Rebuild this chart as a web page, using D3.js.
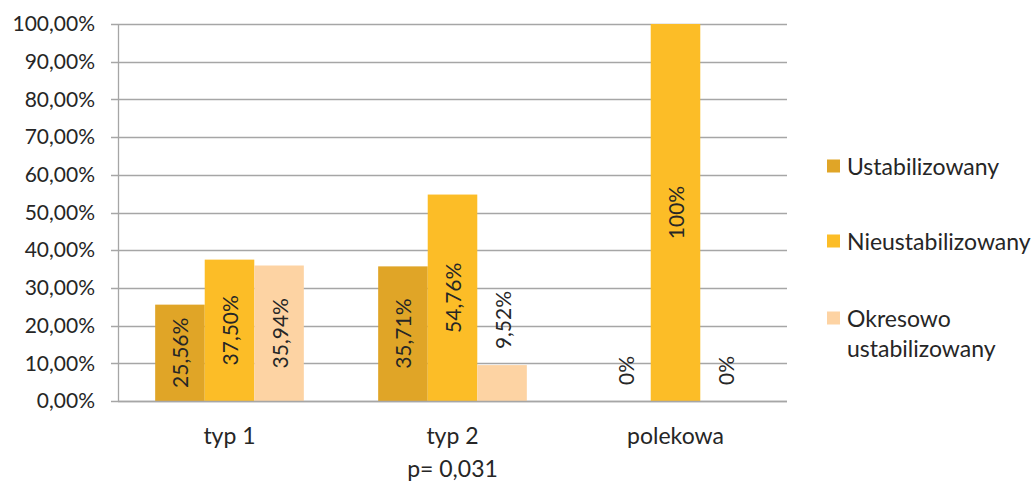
<!DOCTYPE html>
<html>
<head>
<meta charset="utf-8">
<script src="https://cdn.jsdelivr.net/npm/d3@7"></script>
<style>
  html, body { margin: 0; padding: 0; background: #fff; }
  svg { display: block; font-family: Lato, "Open Sans", sans-serif; }
</style>
</head>
<body>
<svg id="chart" width="1033" height="481"></svg>
<script>
// Data
const categories = ["typ 1", "typ 2", "polekowa"];
const seriesNames = ["Ustabilizowany", "Nieustabilizowany", "Okresowo ustabilizowany"];
const ustabilizowany = [25.56, 35.71, 0];
const nieustabilizowany = [37.50, 54.76, 100];
const okresowo = [35.94, 9.52, 0];
const valueLabels = [
  ["25,56%", "35,71%", "0%"],
  ["37,50%", "54,76%", "100%"],
  ["35,94%", "9,52%", "0%"]
];
const yTicks = [0, 10, 20, 30, 40, 50, 60, 70, 80, 90, 100];
const colors = ["#E0A527", "#FCBD27", "#FDD3A3"];
const footnote = "p= 0,031";

const series = [ustabilizowany, nieustabilizowany, okresowo];

const svg = d3.select("#chart");
const plot = { left: 118, right: 787, top: 24, bottom: 401 };
const textColor = "#262626";
const gridColor = "#A6A6A6";

const x = d3.scaleBand().domain(categories).range([plot.left, plot.right]).paddingInner(0).paddingOuter(0);
// Gap width of 150%: bars fill 3/(3+1.5) of each category
const gap = x.bandwidth() * 0.75 / 4.5;
const xInner = d3.scaleBand().domain(d3.range(series.length))
  .range([gap, x.bandwidth() - gap]).padding(0);

const y = d3.scaleLinear().domain([0, 100]).range([plot.bottom, plot.top]);

// Gridlines
svg.append("g")
  .selectAll("line")
  .data(yTicks)
  .join("line")
  .attr("x1", plot.left - 7)
  .attr("x2", plot.right)
  .attr("y1", d => Math.round(y(d)) + 0.5)
  .attr("y2", d => Math.round(y(d)) + 0.5)
  .attr("stroke", gridColor)
  .attr("stroke-width", 1.3);

// Y axis line
svg.append("line")
  .attr("x1", plot.left + 0.5).attr("x2", plot.left + 0.5)
  .attr("y1", plot.top).attr("y2", plot.bottom)
  .attr("stroke", gridColor).attr("stroke-width", 1.3);

// Y axis labels
const yAxis = d3.axisLeft(y).tickValues(yTicks)
  .tickFormat(d => d3.format(".2f")(d).replace(".", ",") + "%")
  .tickSize(0).tickPadding(23);
const yg = svg.append("g").attr("transform", `translate(${plot.left},0)`).call(yAxis);
yg.select(".domain").remove();
yg.selectAll("text")
  .attr("font-family", "Lato, sans-serif")
  .attr("font-size", 21)
  .attr("fill", textColor);

// Bars
const barGroups = svg.append("g").selectAll("g")
  .data(series)
  .join("g")
  .attr("fill", (d, i) => colors[i]);

barGroups.each(function(vals, si) {
  d3.select(this).selectAll("rect")
    .data(vals.map((v, ci) => ({ v, ci })))
    .join("rect")
    .attr("x", d => x(categories[d.ci]) + xInner(si))
    .attr("width", xInner.bandwidth())
    .attr("y", d => y(d.v))
    .attr("height", d => y(0) - y(d.v));
});

// Value labels (rotated); placed above the bar when they do not fit inside
const labelLayer = svg.append("g");
series.forEach((vals, si) => {
  vals.forEach((v, ci) => {
    const cx = x(categories[ci]) + xInner(si) + xInner.bandwidth() / 2;
    const t = labelLayer.append("text")
      .text(valueLabels[si][ci])
      .attr("font-size", 21)
      .attr("fill", textColor)
      .attr("dominant-baseline", "central");
    const len = t.node().getComputedTextLength();
    const barH = y(0) - y(v);
    let cy, anchor;
    if (len + 6 < barH) {
      cy = (y(0) + y(v)) / 2;
      anchor = "middle";
    } else {
      cy = y(v) - 16;
      anchor = "start";
    }
    t.attr("text-anchor", anchor)
      .attr("transform", `translate(${cx},${cy}) rotate(-90)`);
  });
});

// X axis line
svg.append("line")
  .attr("x1", plot.left).attr("x2", plot.right)
  .attr("y1", plot.bottom + 0.5).attr("y2", plot.bottom + 0.5)
  .attr("stroke", gridColor).attr("stroke-width", 1.3);

// Category labels
svg.append("g").selectAll("text")
  .data(categories)
  .join("text")
  .attr("x", d => x(d) + x.bandwidth() / 2)
  .attr("y", 444)
  .attr("text-anchor", "middle")
  .attr("font-size", 23)
  .attr("fill", textColor)
  .text(d => d);

// Footnote
svg.append("text")
  .attr("x", x("typ 2") + x.bandwidth() / 2)
  .attr("y", 477)
  .attr("text-anchor", "middle")
  .attr("font-size", 23)
  .attr("fill", textColor)
  .text(footnote);

// Legend
const legendRows = [
  { lines: ["Ustabilizowany"], cy: 166 },
  { lines: ["Nieustabilizowany"], cy: 241 },
  { lines: ["Okresowo", "ustabilizowany"], cy: 318 }
];
const legend = svg.append("g");
legendRows.forEach((row, i) => {
  legend.append("rect")
    .attr("x", 827).attr("y", row.cy - 6.5)
    .attr("width", 13).attr("height", 13)
    .attr("fill", colors[i]);
  const t = legend.append("text")
    .attr("x", 847).attr("y", row.cy)
    .attr("font-size", 23)
    .attr("fill", textColor)
    .attr("dominant-baseline", "central");
  row.lines.forEach((ln, j) => {
    t.append("tspan").attr("x", 847).attr("dy", j === 0 ? 0 : 30).text(ln);
  });
});
</script>
</body>
</html>
